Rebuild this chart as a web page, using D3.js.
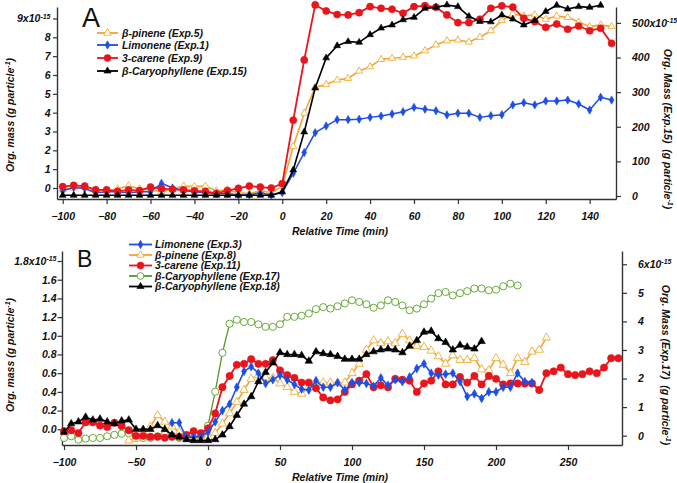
<!DOCTYPE html>
<html>
<head>
<meta charset="utf-8">
<script src="https://cdn.jsdelivr.net/npm/d3@7"></script>
<style>
body{margin:0;background:#fff}
text{font-family:"Liberation Sans",Arial,sans-serif;font-weight:bold;font-style:italic;fill:#111}
</style>
</head>
<body>
<svg id="chart" width="677" height="483"></svg>
<script>
// ---- panel A data (relative time, min) ----
const timeA=[-100,-95,-90,-85,-80,-75,-70,-65,-60,-55,-50,-45,-40,-35,-30,-25,-20,-15,-10,-5,0,5,10,15,20,25,30,35,40,45,50,55,60,65,70,75,80,85,90,95,100,105,110,115,120,125,130,135,140,145,150];
const pineneA=[-0.1,0.0,0.05,-0.1,-0.15,-0.05,0.12,-0.05,-0.1,-0.2,-0.05,0.1,0.08,0.1,-0.15,-0.1,-0.25,-0.3,-0.15,-0.25,0.1,
 2.2,3.97,5.35,5.49,5.73,5.82,6.21,6.44,6.83,6.89,6.94,7.01,7.29,7.6,7.82,7.86,7.75,8.0,8.35,8.89,9.24,9.13,9.19,8.96,9.13,9.06,8.81,8.57,8.66,8.57];
const limoneneA=[-0.15,0.03,-0.03,-0.25,-0.2,-0.2,-0.25,-0.2,-0.2,0.25,0.0,-0.13,-0.2,-0.25,-0.29,-0.29,-0.37,-0.37,-0.25,-0.37,-0.25,
 0.78,1.88,2.94,3.29,3.63,3.63,3.65,3.75,3.82,3.93,4.05,4.28,4.18,4.1,3.88,3.97,3.97,3.75,3.84,3.89,4.41,4.53,4.41,4.62,4.62,4.67,4.46,4.14,4.82,4.67];
const careneA=[0.07,0.14,0.1,-0.1,-0.1,-0.18,-0.1,-0.14,0.05,-0.03,-0.07,-0.1,-0.15,-0.18,-0.29,-0.14,-0.02,0.1,0.05,0.0,0.23,
 3.6,6.8,9.72,9.4,9.21,9.19,9.31,9.63,9.54,9.49,9.28,9.63,9.68,9.6,9.19,8.78,8.78,8.96,9.54,9.67,9.6,9.01,8.83,8.53,8.71,8.43,8.6,8.35,8.48,7.68];
// right axis (Exp.15), 1e-15 g
const caryA=[2,2,2,2,2,2,2,2,2,2,2,2,2,2,2,2,2,2,2,2,12,
 75,185,312,399,434,446,444,466,485,494,509,516,542,545,552,547,519,504,503,523,511,494,507,533,551,540,547,545,551,null];

// ---- panel B data ----
const timeB=[-100,-95,-90,-85,-80,-75,-70,-65,-60,-55,-50,-45,-40,-35,-30,-25,-20,-15,-10,-5,0,5,10,15,20,25,30,35,40,45,50,55,60,65,70,75,80,85,90,95,100,105,110,115,120,125,130,135,140,145,150,155,160,165,170,175,180,185,190,195,200,205,210,215,220,225,230,235,240,245,250,255,260,265,270,275,280,285];
const limoneneB=[null,null,null,null,null,null,null,null,null,null,null,null,null,null,null,
 0.07,0.07,-0.09,-0.08,-0.08,-0.03,0.08,0.2,0.27,0.45,0.62,0.67,0.6,0.49,0.53,0.58,0.53,0.48,0.43,0.42,0.52,0.45,0.45,0.5,0.42,
 0.5,0.5,0.49,0.46,0.55,0.47,0.53,0.51,0.56,0.65,0.7,0.6,0.58,0.59,0.6,0.51,0.35,0.38,0.33,0.4,0.4,0.45,0.45,0.6,0.51,0.5,
 null,null,null,null,null,null,null,null,null,null,null,null];
const pineneB=[null,null,null,null,null,null,null,null,null,
 -0.12,-0.1,-0.03,0.03,0.15,0.08,0.03,-0.03,-0.08,-0.1,-0.1,-0.08,-0.04,0.06,0.17,0.29,0.42,0.54,0.58,0.55,0.55,0.49,0.45,0.4,0.38,
 0.45,0.5,0.5,0.5,0.49,0.5,0.6,0.7,0.85,0.95,0.92,0.94,0.92,1.02,0.95,0.89,0.88,0.84,0.78,0.7,0.79,0.74,0.74,0.76,0.64,0.63,
 0.76,0.69,0.6,0.76,0.72,0.83,0.85,0.98,
 null,null,null,null,null,null,null,null,null,null];
const careneB=[-0.02,-0.01,-0.04,0.075,0.075,0.04,0.025,0.07,0.035,-0.01,-0.07,-0.07,-0.08,-0.08,-0.09,-0.08,-0.08,-0.06,-0.02,-0.04,0.01,
 0.17,0.45,0.57,0.69,0.7,0.75,0.7,0.7,0.74,0.63,0.58,0.55,0.5,0.5,0.44,0.34,0.31,0.32,0.4,0.48,0.52,0.59,0.45,0.47,0.45,0.54,0.53,0.52,0.4,
 0.49,0.52,0.62,0.48,0.48,0.56,0.5,0.57,0.48,0.57,0.54,0.48,0.49,0.49,0.49,0.49,0.42,0.6,0.62,0.66,0.59,0.58,0.59,0.62,0.6,0.66,0.76,0.76];
// right axis (Exp.17), 1e-15 g
const cary17B=[-0.08,-0.02,-0.14,-0.1,-0.08,-0.08,-0.02,0.03,0.07,0.09,-0.08,-0.08,-0.08,-0.02,0.03,0.0,-0.08,-0.08,-0.08,-0.05,0.35,
 1.54,2.9,3.92,4.06,3.98,3.98,3.9,3.81,3.81,3.9,4.16,4.16,4.2,4.28,4.43,4.5,4.45,4.53,4.63,4.74,4.68,4.6,4.48,4.56,4.74,4.68,4.56,4.39,4.45,
 4.6,4.8,4.99,5.03,4.91,4.99,5.06,5.15,5.15,5.09,5.11,5.23,5.32,5.26,
 null,null,null,null,null,null,null,null,null,null,null,null,null,null];
const cary18B=[-0.03,0.06,0.08,0.13,0.1,0.11,0.08,0.06,0.09,0.1,0.0,0.0,0.0,0.04,0.0,-0.06,-0.08,-0.11,-0.12,-0.12,-0.12,
 -0.11,-0.06,0.03,0.15,0.27,0.35,0.51,0.61,0.71,0.82,0.8,0.8,0.79,0.73,0.83,0.81,0.8,0.78,0.75,0.75,0.75,0.8,0.83,0.85,0.86,0.85,0.82,0.89,0.95,
 1.04,1.05,0.97,0.93,0.85,0.9,0.88,0.86,0.94,
 null,null,null,null,null,null,null,null,null,null,null,null,null,null,null,null,null,null,null];

const ticksAx=[-100,-80,-60,-40,-20,0,20,40,60,80,100,120,140],
ticksAy=[0,1,2,3,4,5,6,7,8,9],
ticksAy2=[0,100,200,300,400,500],
ticksBx=[-100,-50,0,50,100,150,200,250],
ticksBy=[0,0.2,0.4,0.6,0.8,1.0,1.2,1.4,1.6,1.8],
ticksBy2=[0,1,2,3,4,5,6];

const ORANGE="#f2a531", BLUE="#1d4fe3", RED="#e8161c", GREEN="#4f9b22", BLACK="#000";

const svg=d3.select("#chart");

// scales
const xA=d3.scaleLinear().domain([-102.6,152]).range([57,616]);
const yA=d3.scaleLinear().domain([-0.584,9.61]).range([199,7]);
const yA2=d3.scaleLinear().domain([-8.7,546]).range([199,7]);
const xB=d3.scaleLinear().domain([-101.4,287.5]).range([62,622]);
const yB=d3.scaleLinear().domain([-0.168,1.907]).range([445,251]);
const yB2=d3.scaleLinear().domain([-0.326,6.465]).range([445,251]);

const intFmt=d3.format("d");

function styleAxis(g){
  g.attr("font-size",10.5).attr("font-family",null);
  g.select(".domain").attr("stroke","#333").attr("stroke-width",1.4);
  g.selectAll(".tick line").attr("stroke","#333").attr("stroke-width",1.2);
}
function sup(sel,base,s){
  sel.text(base);
  sel.append("tspan").attr("dy","-0.55em").attr("font-size","7px").text(s);
}

// ---- axes A ----
svg.append("g").attr("transform","translate(0,199)")
  .call(d3.axisBottom(xA).tickValues(ticksAx).tickSize(5).tickSizeOuter(0).tickPadding(9).tickFormat(intFmt))
  .call(styleAxis);
svg.append("g").attr("transform","translate(57,0)")
  .call(d3.axisLeft(yA).tickValues(ticksAy).tickSize(4).tickSizeOuter(0).tickPadding(2.5).tickFormat(intFmt))
  .call(styleAxis)
  .selectAll(".tick text").filter(d=>d===9).each(function(){sup(d3.select(this),"9x10","-15")});
svg.append("g").attr("transform","translate(616,0)")
  .call(d3.axisRight(yA2).tickValues(ticksAy2).tickSize(5).tickSizeOuter(0).tickPadding(11).tickFormat(intFmt))
  .call(styleAxis)
  .selectAll(".tick text").filter(d=>d===500).each(function(){sup(d3.select(this),"500x10","-15")});

// ---- axes B ----
svg.append("g").attr("transform","translate(0,445)")
  .call(d3.axisBottom(xB).tickValues(ticksBx).tickSize(5).tickSizeOuter(0).tickPadding(9).tickFormat(intFmt))
  .call(styleAxis);
svg.append("g").attr("transform","translate(62,0)")
  .call(d3.axisLeft(yB).tickValues(ticksBy).tickSize(4.5).tickSizeOuter(0).tickPadding(1).tickFormat(d3.format(".1f")))
  .call(styleAxis)
  .selectAll(".tick text").filter(d=>d===1.8).each(function(){sup(d3.select(this),"1.8x10","-15")});
svg.append("g").attr("transform","translate(622,0)")
  .call(d3.axisRight(yB2).tickValues(ticksBy2).tickSize(5).tickSizeOuter(0).tickPadding(11).tickFormat(intFmt))
  .call(styleAxis)
  .selectAll(".tick text").filter(d=>d===6).each(function(){sup(d3.select(this),"6x10","-15")});

// ---- titles ----
function xTitle(y){
  svg.append("text").attr("x",340).attr("y",y).attr("text-anchor","middle").attr("font-size",10.5).text("Relative Time (min)");
}
xTitle(235); xTitle(481);
function yTitle(x,y,rot,pre){
  const t=svg.append("text").attr("transform",`translate(${x},${y}) rotate(${rot})`)
    .attr("text-anchor","middle").attr("font-size",10.5).attr("dy","0.35em");
  t.append("tspan").text(pre);
  t.append("tspan").attr("dy","-0.5em").attr("font-size","7px").text("-1");
  t.append("tspan").attr("dy","0.35em").text(")");
}
yTitle(10,115,-90,"Org. mass (g particle");
yTitle(668,129,90,"Org. Mass (Exp.15) \u00a0(g particle");
yTitle(10,355,-90,"Org. mass (g particle");
yTitle(666,365,90,"Org. Mass (Exp.17) \u00a0(g particle");

svg.append("text").attr("x",82).attr("y",27).attr("font-size",27).style("font-weight","normal").style("font-style","normal").text("A");
svg.append("text").attr("x",77).attr("y",267).attr("font-size",23).style("font-weight","normal").style("font-style","normal").text("B");

// ---- markers ----
const shapes={
  triOpen:{sym:d3.symbolTriangle,open:true},
  triFill:{sym:d3.symbolTriangle,open:false},
  diamond:{sym:d3.symbolDiamond,open:false},
  circle:{sym:d3.symbolCircle,open:false},
  circleOpen:{sym:d3.symbolCircle,open:true}
};
function addMarker(g,x,y,shape,color,size,fillOverride){
  const s=shapes[shape];
  g.append("path").attr("transform",`translate(${x},${y})`)
    .attr("d",d3.symbol().type(s.sym).size(size)())
    .attr("fill",s.open?"#fff":color)
    .attr("stroke",fillOverride||color).attr("stroke-width",s.open?1:0.6);
}
function series(times,vals,x,y,color,shape,size,lw,mstroke){
  const pts=times.map((t,i)=>[t,vals[i]]);
  const g=svg.append("g");
  g.append("path").datum(pts)
    .attr("fill","none").attr("stroke",color).attr("stroke-width",lw).attr("stroke-linejoin","round")
    .attr("d",d3.line().defined(d=>d[1]!=null).x(d=>x(d[0])).y(d=>y(d[1])));
  pts.filter(d=>d[1]!=null).forEach(d=>addMarker(g,x(d[0]),y(d[1]),shape,color,size,mstroke));
}

// panel A series
series(timeA,pineneA,xA,yA,ORANGE,"triOpen",22,1.6,"#f2b54a");
series(timeA,limoneneA,xA,yA,BLUE,"diamond",20,1.5);
series(timeA,careneA,xA,yA,RED,"circle",40,1.8);
series(timeA,caryA,xA,yA2,BLACK,"triFill",20,1.6);

// panel B series
series(timeB,cary17B,xB,yB2,GREEN,"circleOpen",40,1.3,"#6aaa3c");
series(timeB,pineneB,xB,yB,ORANGE,"triOpen",30,1.6,"#f2b54a");
series(timeB,careneB,xB,yB,RED,"circle",42,1.8);
series(timeB,limoneneB,xB,yB,BLUE,"diamond",22,1.6);
series(timeB,cary18B,xB,yB,BLACK,"triFill",24,1.6);

// ---- legends ----
function legend(x0,x1,xt,rows){
  rows.forEach(r=>{
    const g=svg.append("g");
    g.append("line").attr("x1",x0).attr("x2",x1).attr("y1",r.y).attr("y2",r.y)
      .attr("stroke",r.color).attr("stroke-width",1.8);
    addMarker(g,(x0+x1)/2,r.y,r.shape,r.color,r.size,r.mstroke);
    g.append("text").attr("x",xt).attr("y",r.y).attr("dy","0.35em").attr("font-size",10.4).text(r.label);
  });
}
legend(97,118,122,[
  {y:33,color:ORANGE,shape:"triOpen",size:24,mstroke:"#f2b54a",label:"\u03b2-pinene (Exp.5)"},
  {y:45,color:BLUE,shape:"diamond",size:20,label:"Limonene (Exp.1)"},
  {y:58,color:RED,shape:"circle",size:38,label:"3-carene (Exp.9)"},
  {y:71,color:BLACK,shape:"triFill",size:22,label:"\u03b2-Caryophyllene (Exp.15)"}
]);
legend(129,152,155,[
  {y:244.5,color:BLUE,shape:"diamond",size:20,label:"Limonene (Exp.3)"},
  {y:255,color:ORANGE,shape:"triOpen",size:24,mstroke:"#f2b54a",label:"\u03b2-pinene (Exp.8)"},
  {y:265.5,color:RED,shape:"circle",size:38,label:"3-carene (Exp.11)"},
  {y:276,color:GREEN,shape:"circleOpen",size:36,mstroke:"#6aaa3c",label:"\u03b2-Caryophyllene (Exp.17)"},
  {y:286.5,color:BLACK,shape:"triFill",size:22,label:"\u03b2-Caryophyllene (Exp.18)"}
]);
</script>
</body>
</html>
